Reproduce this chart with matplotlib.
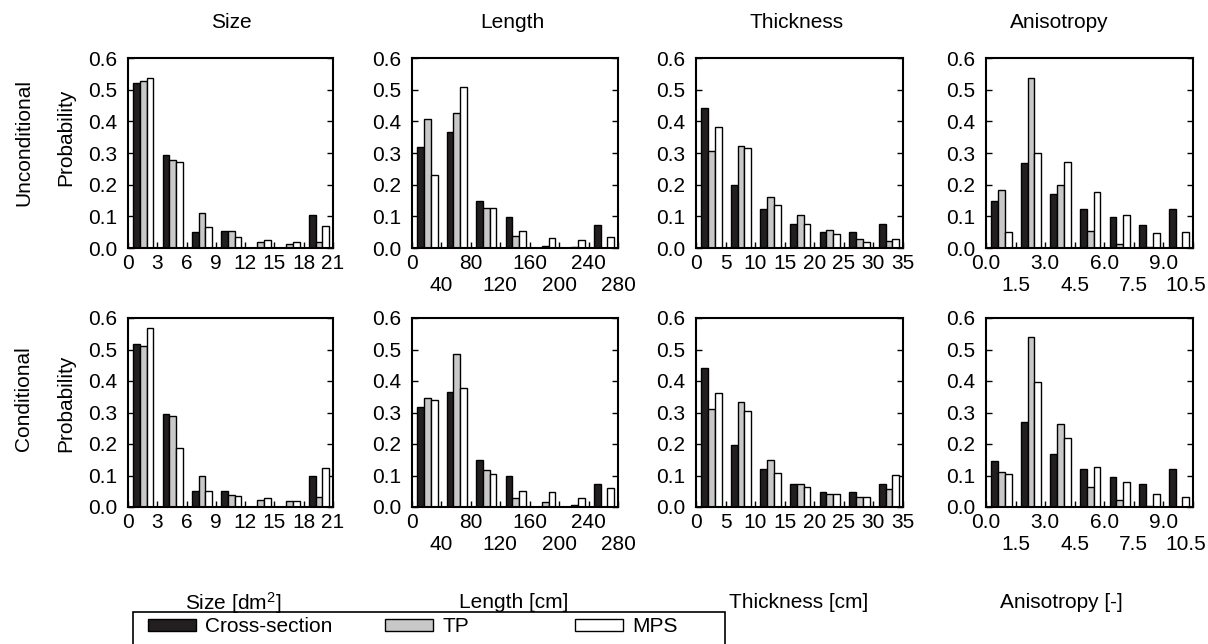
import numpy as np
import matplotlib
matplotlib.use("Agg")
import matplotlib.pyplot as plt
import matplotlib.transforms as mtransforms
from matplotlib.patches import Patch, Rectangle

plt.rcParams['font.family'] = ['Liberation Sans', 'DejaVu Sans']
plt.rcParams['mathtext.default'] = 'regular'

# ---------------- data ----------------
variables = ["Size", "Length", "Thickness", "Anisotropy"]
xlabels = ["Size [dm$^{2}$]", "Length [cm]", "Thickness [cm]", "Anisotropy [-]"]
bin_widths = [3, 40, 5, 1.5]
series_names = ["Cross-section", "TP", "MPS"]

size_ticks = ['0', '3', '6', '9', '12', '15', '18', '21']
length_ticks = ['0', '40', '80', '120', '160', '200', '240', '280']
thick_ticks = ['0', '5', '10', '15', '20', '25', '30', '35']
aniso_ticks = ['0.0', '1.5', '3.0', '4.5', '6.0', '7.5', '9.0', '10.5']
staggered = [False, True, False, True]

# Unconditional
size_unc_cs = [0.521, 0.295, 0.051, 0.053, 0.0, 0.0, 0.103]
size_unc_tp = [0.527, 0.279, 0.112, 0.053, 0.020, 0.012, 0.020]
size_unc_mps = [0.537, 0.271, 0.066, 0.036, 0.026, 0.020, 0.068]

length_unc_cs = [0.320, 0.366, 0.149, 0.099, 0.0, 0.0, 0.073]
length_unc_tp = [0.406, 0.426, 0.125, 0.038, 0.006, 0.004, 0.0]
length_unc_mps = [0.230, 0.507, 0.125, 0.055, 0.033, 0.025, 0.034]

thick_unc_cs = [0.443, 0.199, 0.122, 0.075, 0.050, 0.050, 0.075]
thick_unc_tp = [0.307, 0.323, 0.160, 0.104, 0.057, 0.029, 0.021]
thick_unc_mps = [0.383, 0.317, 0.136, 0.075, 0.045, 0.020, 0.030]

aniso_unc_cs = [0.147, 0.270, 0.170, 0.123, 0.098, 0.072, 0.122]
aniso_unc_tp = [0.184, 0.536, 0.200, 0.055, 0.014, 0.003, 0.0]
aniso_unc_mps = [0.051, 0.299, 0.271, 0.176, 0.103, 0.046, 0.051]

# Conditional
size_con_cs = [0.516, 0.294, 0.050, 0.051, 0.0, 0.0, 0.100]
size_con_tp = [0.510, 0.289, 0.099, 0.038, 0.021, 0.020, 0.031]
size_con_mps = [0.569, 0.187, 0.050, 0.034, 0.027, 0.018, 0.125]

length_con_cs = [0.318, 0.365, 0.148, 0.099, 0.0, 0.0, 0.074]
length_con_tp = [0.347, 0.485, 0.119, 0.030, 0.015, 0.005, 0.0]
length_con_mps = [0.340, 0.379, 0.104, 0.050, 0.048, 0.029, 0.060]

thick_con_cs = [0.442, 0.198, 0.122, 0.074, 0.049, 0.049, 0.074]
thick_con_tp = [0.310, 0.332, 0.149, 0.073, 0.042, 0.031, 0.057]
thick_con_mps = [0.363, 0.305, 0.109, 0.065, 0.041, 0.031, 0.103]

aniso_con_cs = [0.145, 0.269, 0.169, 0.122, 0.096, 0.072, 0.122]
aniso_con_tp = [0.111, 0.539, 0.264, 0.063, 0.022, 0.004, 0.0]
aniso_con_mps = [0.104, 0.398, 0.220, 0.127, 0.080, 0.041, 0.031]

y_ticks = [0.0, 0.1, 0.2, 0.3, 0.4, 0.5, 0.6]
y_ticklabels = ['0.0', '0.1', '0.2', '0.3', '0.4', '0.5', '0.6']

rows = [
    [(size_unc_cs, size_unc_tp, size_unc_mps),
     (length_unc_cs, length_unc_tp, length_unc_mps),
     (thick_unc_cs, thick_unc_tp, thick_unc_mps),
     (aniso_unc_cs, aniso_unc_tp, aniso_unc_mps)],
    [(size_con_cs, size_con_tp, size_con_mps),
     (length_con_cs, length_con_tp, length_con_mps),
     (thick_con_cs, thick_con_tp, thick_con_mps),
     (aniso_con_cs, aniso_con_tp, aniso_con_mps)],
]
tick_sets = [size_ticks, length_ticks, thick_ticks, aniso_ticks]

# ---------------- style ----------------
W, H = 1208, 644
colors = ['#231f20', '#c8c8c8', '#ffffff']
FS = 15

fig = plt.figure(figsize=(W / 100, H / 100), dpi=100)

col_lr = [(128, 333), (412, 618), (696, 903), (986, 1193)]
row_tb = [(58, 248), (318, 507)]


def fx(x):
    return x / W


def fy(y):
    return 1 - y / H


for r, (top, bot) in enumerate(row_tb):
    for c, (left, right) in enumerate(col_lr):
        ax = fig.add_axes([fx(left), fy(bot), fx(right - left), (bot - top) / H])
        w = bin_widths[c]
        nb = len(rows[r][c][0])
        edges = np.arange(nb + 1) * w
        for k, vals in enumerate(rows[r][c]):
            ax.bar(edges[:-1] + w * (0.18 + 0.23 * k), vals, width=w * 0.23,
                   align='edge', color=colors[k], edgecolor='black', linewidth=1.0,
                   zorder=2)
        ax.set_xlim(0, nb * w)
        ax.set_ylim(0, 0.6)
        labels = tick_sets[c]
        if staggered[c]:
            ax.set_xticks(edges[0::2])
            ax.set_xticklabels(labels[0::2], fontsize=FS)
            ax.set_xticks(edges[1::2], minor=True)
            ax.set_xticklabels(labels[1::2], minor=True, fontsize=FS)
            ax.tick_params(axis='x', which='minor', direction='in', top=False,
                           length=4, width=1, pad=20)
            if c == 3:
                lab = ax.get_xticklabels(minor=True)[-1]
                lab.set_transform(lab.get_transform() + mtransforms.ScaledTranslation(
                    -7 / 100, 0, fig.dpi_scale_trans))
        else:
            ax.set_xticks(edges)
            ax.set_xticklabels(labels, fontsize=FS)
        ax.set_yticks(y_ticks)
        ax.set_yticklabels(y_ticklabels, fontsize=FS)
        ax.tick_params(axis='y', direction='in', right=True, length=4, width=1, pad=8)
        ax.tick_params(axis='x', which='major', direction='in', top=False,
                       length=4, width=1, pad=4)
        for sp in ax.spines.values():
            sp.set_linewidth(1.5)
            sp.set_zorder(3)

# column titles and x labels
title_x = [231, 512, 797, 1059]
for c in range(4):
    fig.text(fx(title_x[c]), fy(22), variables[c], ha='center', va='center', fontsize=FS)
    fig.text(fx(title_x[c] + 2), fy(603), xlabels[c], ha='center', va='center', fontsize=FS)

# row labels
fig.text(fx(24), fy(143), "Unconditional", rotation=90, ha='center', va='center', fontsize=FS)
fig.text(fx(66), fy(137), "Probability", rotation=90, ha='center', va='center', fontsize=FS)
fig.text(fx(24), fy(399), "Conditional", rotation=90, ha='center', va='center', fontsize=FS)
fig.text(fx(66), fy(403), "Probability", rotation=90, ha='center', va='center', fontsize=FS)

# legend
fig.add_artist(Rectangle((fx(133), fy(665)), fx(725 - 133), (665 - 612) / H,
                         transform=fig.transFigure, fill=False, edgecolor='black',
                         linewidth=1.2))
legend_x = [148, 385, 575]
for k in range(3):
    fig.legend(handles=[Patch(facecolor=colors[k], edgecolor='black', linewidth=1.0)],
               labels=[series_names[k]], loc='center left',
               bbox_to_anchor=(fx(legend_x[k]), fy(627)), frameon=False,
               handlelength=2.3, handleheight=0.5, handletextpad=0.45,
               borderpad=0, borderaxespad=0, fontsize=FS)

fig.savefig("out.png", dpi=100)
